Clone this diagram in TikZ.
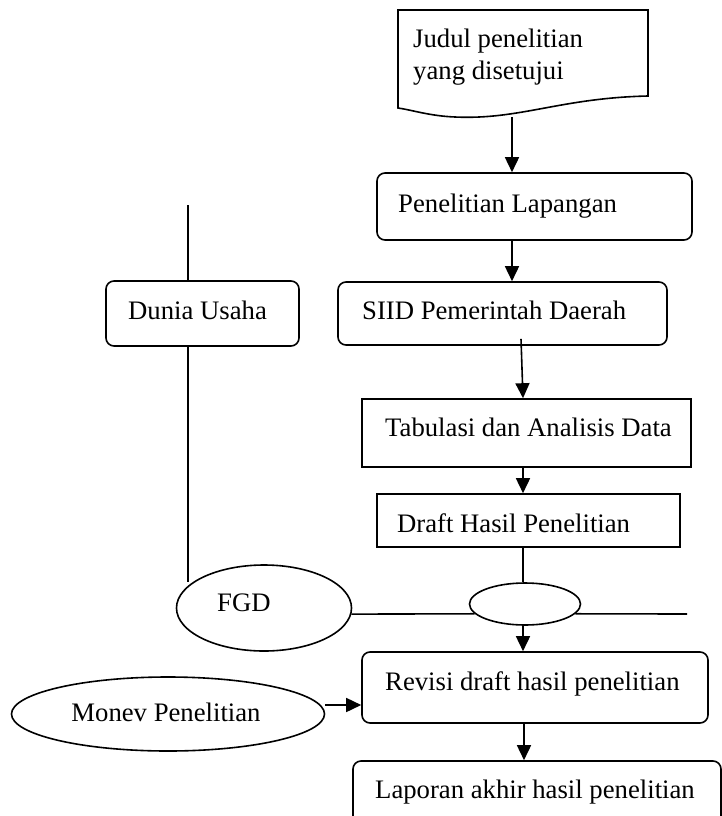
\documentclass[tikz,border=0pt]{standalone}
\usepackage{fontspec}
\setmainfont{Liberation Serif}
\usetikzlibrary{arrows.meta,shapes.geometric,calc}
\tikzset{
  ln/.style={line width=1.6pt, draw=black},
  arr/.style={ln, -{Triangle[width=14pt,length=15pt]}},
  rbox/.style={ln, rectangle, rounded corners=8pt, inner sep=0pt},
  sbox/.style={ln, rectangle, inner sep=0pt},
  ell/.style={ln, ellipse, inner sep=0pt},
  txt/.style={inner sep=0pt, font=\fontsize{26.7}{32}\selectfont},
}
\begin{document}
\begin{tikzpicture}[x=1pt,y=-1pt]
\useasboundingbox (0,0) rectangle (722,816);
% document shape
\draw[ln] (398,10) -- (648,10) -- (648,96)
  .. controls (560,98) and (520,120) .. (455,117)
  .. controls (430,116) and (412,110) .. (398,108) -- cycle;
\node[txt, anchor=west, align=left] (judul) at (413,57) {Judul penelitian\\yang disetujui};
\coordinate (judulb) at (512,117);
% boxes
\node[rbox, minimum width=315pt, minimum height=67pt] (pl) at (534.5,206.5) {};
\node[txt, anchor=base west] (plt) at (398,212) {Penelitian Lapangan};
\node[rbox, minimum width=329pt, minimum height=63pt] (siid) at (502.5,313.5) {};
\node[txt, anchor=base west] (siidt) at (362,319) {SIID Pemerintah Daerah};
\node[rbox, minimum width=193pt, minimum height=65pt] (dun) at (202.5,313.5) {};
\node[txt, anchor=base west] (dunt) at (128,319) {Dunia Usaha};
\node[sbox, minimum width=329pt, minimum height=68pt] (tab) at (526.5,433) {};
\node[txt, anchor=base west] (tabt) at (385,436) {Tabulasi dan Analisis Data};
\node[sbox, minimum width=303pt, minimum height=53pt] (dr) at (528.5,520.5) {};
\node[txt, anchor=base west] (drt) at (397,532) {Draft Hasil Penelitian};
\node[ell, minimum width=175pt, minimum height=86pt] (fgd) at (264,608) {};
\node[txt, anchor=base west] (fgdt) at (217,611) {FGD};
\node[ell, minimum width=111pt, minimum height=42pt] (sm) at (525,604) {};
\node[rbox, minimum width=346pt, minimum height=71pt] (rev) at (535,687.5) {};
\node[txt, anchor=base west] (revt) at (385,690) {Revisi draft hasil penelitian};
\node[ell, minimum width=313pt, minimum height=74pt] (mon) at (168,714) {};
\node[txt, anchor=base] (mont) at (166,721) {Monev Penelitian};
\node[rbox, minimum width=368pt, minimum height=69pt] (lap) at (537,795.5) {};
\node[txt, anchor=base west] (lapt) at (375,798) {Laporan akhir hasil penelitian};
% helper coordinates
\coordinate (ax) at (523,0);
\coordinate (ax2) at (524,0);
\coordinate (vt) at (188,205);
\coordinate (vb) at (188,582);
\coordinate (hr) at (687,614);
\coordinate (ma) at (0,705);
% connectors
\draw[arr] (judulb) -- (pl.north -| judulb);
\draw[arr] (pl.south -| judulb) -- (siid.north -| judulb);
\draw[arr] ([xshift=18.5pt,yshift=7pt]siid.south) -- ([xshift=-3.5pt]tab.north);
\draw[arr] (tab.south -| ax) -- (dr.north -| ax);
\draw[ln] (dr.south -| ax) -- (sm.north -| ax);
\draw[arr] (sm.south -| ax) -- (rev.north -| ax);
\draw[ln] (fgd.-4) -- (sm.191.6);
\draw[ln] (sm.-11.6) -- (hr);
\draw[ln] (vt) -- (dun.north -| vt);
\draw[ln] (dun.south -| vt) -- (vb);
\draw[arr] (mon.east |- ma) -- (rev.west |- ma);
\draw[arr] (rev.south -| ax2) -- (lap.north -| ax2);
\end{tikzpicture}
\end{document}
